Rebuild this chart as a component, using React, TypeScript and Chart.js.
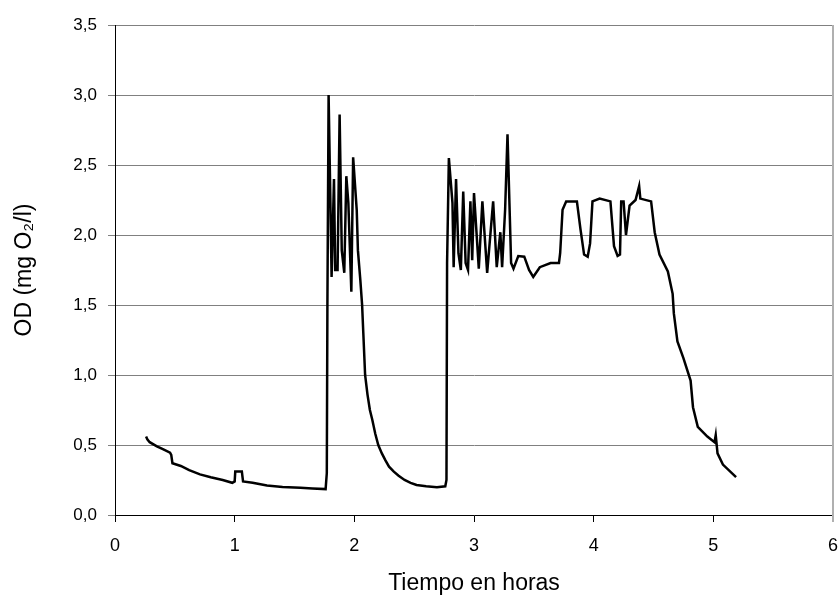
import React, { useEffect, useRef } from "react";
import { Chart, registerables } from "chart.js";

Chart.register(...registerables);

const timeHours: number[] = [
  0.26, 0.27, 0.29, 0.35, 0.40, 0.46, 0.47, 0.48, 0.55, 0.62, 0.71, 0.80, 0.90, 0.98, 1.00, 1.005, 1.06, 1.07, 1.15, 1.27,
  1.40, 1.55, 1.65, 1.76, 1.77, 1.775, 1.785, 1.80, 1.81, 1.83, 1.84, 1.86, 1.877, 1.895, 1.916, 1.933, 1.95, 1.975, 1.99, 2.02,
  2.03, 2.05, 2.065, 2.075, 2.09, 2.11, 2.13, 2.15, 2.175, 2.20, 2.23, 2.26, 2.29, 2.33, 2.37, 2.42, 2.47, 2.52, 2.60, 2.69,
  2.76, 2.77, 2.775, 2.79, 2.82,
  2.83, 2.85, 2.87, 2.89, 2.91, 2.93, 2.95, 2.97, 2.985, 3.00, 3.04, 3.07, 3.11, 3.16, 3.19, 3.22, 3.235, 3.26, 3.28, 3.30,
  3.31, 3.33, 3.37, 3.42, 3.46, 3.495, 3.55, 3.64, 3.71, 3.72, 3.74, 3.77, 3.86, 3.89, 3.92, 3.95, 3.97, 3.99, 4.05, 4.14,
  4.17, 4.20, 4.22, 4.23, 4.25, 4.27, 4.30, 4.35, 4.38, 4.39, 4.48, 4.51, 4.55, 4.62, 4.66, 4.67, 4.70, 4.75, 4.81, 4.83,
  4.87, 4.95, 5.01, 5.02, 5.035, 5.08, 5.19,
];

const odValues: number[] = [
  0.56, 0.54, 0.52, 0.49, 0.47, 0.445, 0.43, 0.37, 0.35, 0.32, 0.29, 0.27, 0.25, 0.23, 0.24, 0.31, 0.31, 0.24, 0.23, 0.21,
  0.20, 0.195, 0.19, 0.185, 0.30, 1.5, 3.0, 2.23, 1.70, 2.40, 1.75, 1.75, 2.86, 1.89, 1.73, 2.42, 2.23, 1.595, 2.555, 2.18,
  1.89, 1.68, 1.5, 1.3, 1.0, 0.86, 0.75, 0.68, 0.58, 0.5, 0.44, 0.39, 0.345, 0.31, 0.28, 0.25, 0.23, 0.214, 0.205, 0.198,
  0.205, 0.25, 1.8, 2.55, 2.23,
  1.77, 2.40, 1.87, 1.75, 2.31, 1.80, 1.75, 2.24, 1.82, 2.30, 1.76, 2.24, 1.73, 2.24, 1.77, 2.02, 1.77, 2.18, 2.72, 2.11,
  1.80, 1.76, 1.85, 1.845, 1.75, 1.70, 1.77, 1.80, 1.80, 1.87, 2.18, 2.24, 2.24, 2.04, 1.86, 1.845, 1.94, 2.24, 2.26, 2.24,
  1.92, 1.85, 1.86, 2.24, 2.24, 2.0, 2.21, 2.25, 2.35, 2.26, 2.24, 2.02, 1.86, 1.74, 1.58, 1.44, 1.24, 1.12, 0.96, 0.77,
  0.63, 0.56, 0.52, 0.57, 0.44, 0.36, 0.27,
];

const xTitle = "Tiempo en horas";
const yTitle = "OD (mg O\u2082/l)";
const xMin = 0;
const xMax = 6;
const yMin = 0;
const yMax = 3.5;

const FONT = "Arial, 'Liberation Sans', Helvetica, sans-serif";

const rightBorder = {
  id: "rightBorder",
  afterDraw(chart: any) {
    const { ctx, chartArea } = chart;
    ctx.save();
    ctx.strokeStyle = "#b0b0b0";
    ctx.lineWidth = 2;
    ctx.beginPath();
    ctx.moveTo(chartArea.right, chartArea.top);
    ctx.lineTo(chartArea.right, chartArea.bottom + 7);
    ctx.stroke();
    ctx.restore();
  },
};

export default function App() {
  const ref = useRef<HTMLCanvasElement | null>(null);

  useEffect(() => {
    if (!ref.current) return;
    const points = timeHours.map((t, i) => ({ x: t, y: odValues[i] }));
    const chart = new Chart(ref.current, {
      type: "line",
      data: {
        datasets: [
          {
            data: points,
            borderColor: "#000000",
            borderWidth: 2.5,
            pointRadius: 0,
            tension: 0,
            fill: false,
          },
        ],
      },
      options: {
        animation: false,
        responsive: false,
        maintainAspectRatio: false,
        layout: { padding: { top: 25, right: 7, left: 0, bottom: 0 } },
        plugins: { legend: { display: false }, tooltip: { enabled: false } },
        scales: {
          x: {
            type: "linear",
            min: xMin,
            max: xMax,
            ticks: {
              stepSize: 1,
              color: "#000",
              font: { family: FONT, size: 18 },
              padding: 13,
              maxRotation: 0,
            },
            grid: {
              drawOnChartArea: false,
              drawTicks: true,
              tickLength: 7,
              color: "#000",
            },
            border: { color: "#000", width: 1 },
            title: {
              display: true,
              text: xTitle,
              color: "#000",
              font: { family: FONT, size: 23 },
              padding: { top: 0, bottom: 2 },
            },
            afterFit: (s: any) => {
              s.height = 84;
              s.paddingLeft = 0;
              s.paddingRight = 0;
            },
          },
          y: {
            type: "linear",
            min: yMin,
            max: yMax,
            ticks: {
              stepSize: 0.5,
              color: "#000",
              font: { family: FONT, size: 17 },
              padding: 11,
              callback: (v: any) => Number(v).toFixed(1).replace(".", ","),
            },
            grid: {
              color: "#808080",
              lineWidth: 1,
              tickLength: 7,
            },
            border: { color: "#000", width: 1 },
            title: {
              display: true,
              text: yTitle,
              color: "#000",
              font: { family: FONT, size: 23 },
              padding: { top: 11, bottom: 0 },
            },
            afterFit: (s: any) => {
              s.width = 115;
              s.paddingTop = 0;
              s.paddingBottom = 0;
            },
          },
        },
      },
      plugins: [rightBorder],
    });
    return () => chart.destroy();
  }, []);

  return (
    <div style={{ position: "fixed", left: 0, top: 0, width: 840, height: 599, background: "#fff" }}>
      <canvas ref={ref} width={840} height={599} style={{ width: 840, height: 599, display: "block" }} />
    </div>
  );
}
